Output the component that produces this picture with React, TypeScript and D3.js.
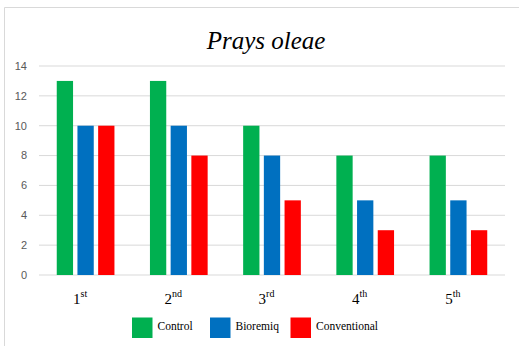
import React from "react";
import * as d3 from "d3";

const categories = ["1", "2", "3", "4", "5"];
const ordinalSuffixes = ["st", "nd", "rd", "th", "th"];
const seriesNames = ["Control", "Bioremiq", "Conventional"];
const control = [13, 13, 10, 8, 8];
const bioremiq = [10, 10, 8, 5, 5];
const conventional = [10, 8, 5, 3, 3];
const yTicks = [0, 2, 4, 6, 8, 10, 12, 14];
const colors = ["#00b050", "#0070c0", "#ff0000"];

const W = 519;
const H = 346;
const plot = { left: 39, right: 505, top: 66, bottom: 275 };

const serif = { fontFamily: "Liberation Serif, Times New Roman, serif" };
const sans = { fontFamily: "Liberation Sans, Arial, sans-serif" };

export default function App() {
  const series = [control, bioremiq, conventional];

  const x = d3
    .scaleBand<string>()
    .domain(categories)
    .range([plot.left, plot.right])
    .paddingInner(0)
    .paddingOuter(0);

  const y = d3.scaleLinear().domain([0, 14]).range([plot.bottom, plot.top]);

  const barW = 16.3;
  const step = 20.7;

  const legendItems = [
    { name: seriesNames[0], x: 132 },
    { name: seriesNames[1], x: 210 },
    { name: seriesNames[2], x: 290.5 },
  ];

  return (
    <svg
      width={W}
      height={H}
      style={{ position: "absolute", left: 0, top: 0, background: "#fff" }}
    >
      {/* chart frame */}
      <line x1={4.5} y1={7.5} x2={W} y2={7.5} stroke="#d9d9d9" />
      <line x1={4.5} y1={7.5} x2={4.5} y2={H} stroke="#d9d9d9" />

      <text
        x={266}
        y={49}
        textAnchor="middle"
        style={{ ...serif, fontStyle: "italic", fontSize: 25 }}
        fill="#000"
      >
        Prays oleae
      </text>

      {/* gridlines and y ticks */}
      {yTicks.map((t) => (
        <g key={t}>
          <line
            x1={plot.left}
            x2={plot.right}
            y1={y(t)}
            y2={y(t)}
            stroke="#d9d9d9"
            strokeWidth={1}
          />
          <text
            x={27}
            y={y(t)}
            dy="0.35em"
            textAnchor="end"
            style={{ ...sans, fontSize: 11 }}
            fill="#595959"
          >
            {t}
          </text>
        </g>
      ))}

      {/* bars */}
      {categories.map((c, i) => {
        const cx = (x(c) as number) + x.bandwidth() / 2;
        return series.map((s, j) => (
          <rect
            key={`${c}-${j}`}
            x={cx + (j - 1) * step - barW / 2}
            y={y(s[i])}
            width={barW}
            height={y(0) - y(s[i])}
            fill={colors[j]}
          />
        ));
      })}

      {/* category labels with ordinal superscripts */}
      {categories.map((c, i) => {
        const cx = (x(c) as number) + x.bandwidth() / 2;
        return (
          <text
            key={c}
            x={cx - 5.5}
            y={304}
            textAnchor="middle"
            style={{ ...serif, fontSize: 15 }}
            fill="#000"
          >
            {c}
            <tspan style={{ fontSize: 10 }} dy={-7}>
              {ordinalSuffixes[i]}
            </tspan>
          </text>
        );
      })}

      {/* legend */}
      {legendItems.map((it, j) => (
        <g key={it.name}>
          <rect x={it.x} y={317.5} width={20.5} height={20.5} fill={colors[j]} />
          <text
            x={it.x + 25.5}
            y={329.5}
            style={{ ...serif, fontSize: 11.5 }}
            fill="#000"
          >
            {it.name}
          </text>
        </g>
      ))}
    </svg>
  );
}
